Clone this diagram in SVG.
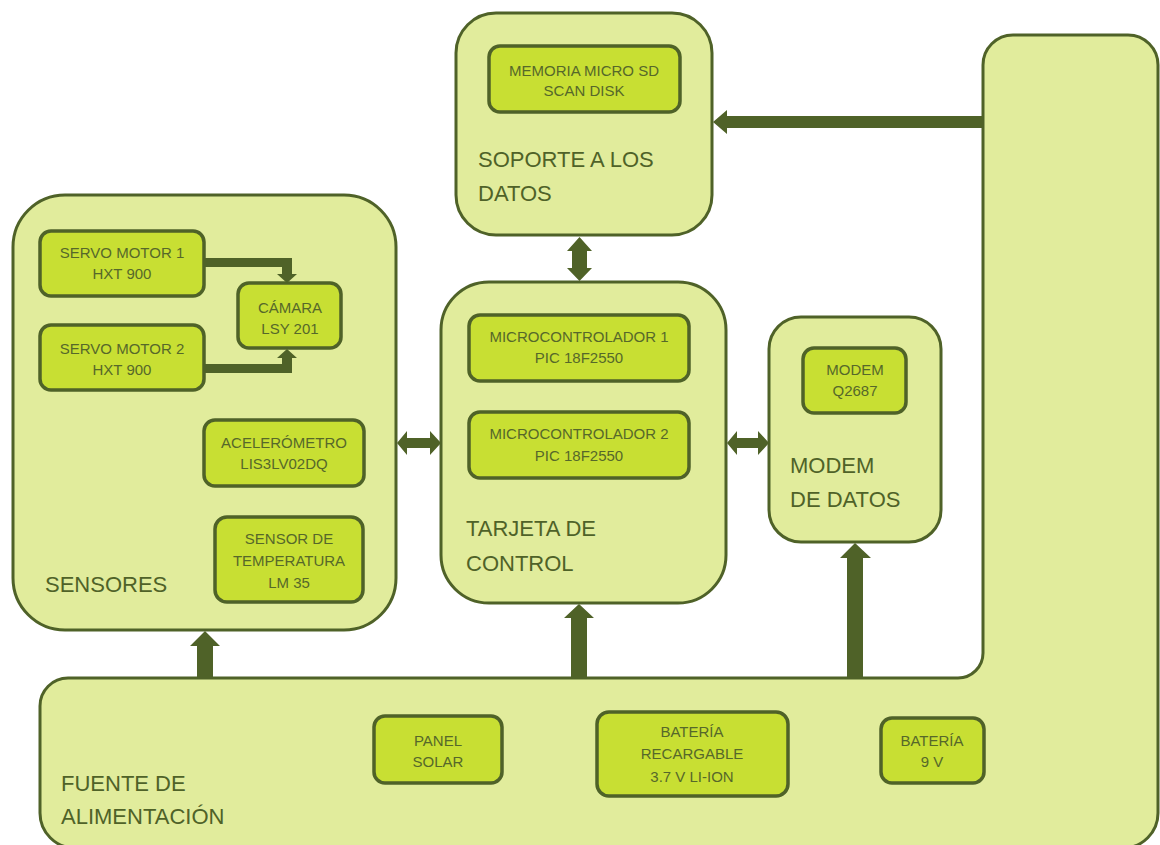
<svg xmlns="http://www.w3.org/2000/svg" width="1160" height="845" viewBox="0 0 1160 845">
<style>
.outer{fill:#e1ec9c;stroke:#4f6228;stroke-width:3}
.inner{fill:#c8df33;stroke:#4f6228;stroke-width:3.5}
.t{font-family:"Liberation Sans",Arial,sans-serif;font-size:15px;fill:#56682a;text-anchor:middle}
.big{font-family:"Liberation Sans",Arial,sans-serif;font-size:22px;fill:#4f6228}
.arr{fill:#4f6228}
</style>
<rect width="1160" height="845" fill="#ffffff"/>

<g id="fuente">
<path class="outer" d="M 68,678 H 958 A 25 25 0 0 0 983 653 V 65 A 30 30 0 0 1 1013 35 H 1128 A 30 30 0 0 1 1158 65 V 813 A 35 35 0 0 1 1123 848 H 75 A 35 35 0 0 1 40 813 V 706 A 28 28 0 0 1 68 678 Z"/>
<text class="big" x="61" y="791">FUENTE DE</text>
<text class="big" x="61" y="824">ALIMENTACIÓN</text>
</g>
<g id="panel">
<rect class="inner" x="374" y="716" width="128" height="67" rx="11"/>
<text class="t" x="438" y="746">PANEL</text>
<text class="t" x="438" y="767">SOLAR</text>
</g>
<g id="bateria-recargable">
<rect class="inner" x="597" y="712" width="191" height="84" rx="12"/>
<text class="t" x="692" y="737">BATERÍA</text>
<text class="t" x="692" y="759">RECARGABLE</text>
<text class="t" x="692" y="782">3.7 V LI-ION</text>
</g>
<g id="bateria-9v">
<rect class="inner" x="881" y="718" width="103" height="65" rx="11"/>
<text class="t" x="932" y="746">BATERÍA</text>
<text class="t" x="932" y="767">9 V</text>
</g>

<g id="soporte">
<rect class="outer" x="456" y="13" width="256" height="222" rx="40"/>
<text class="big" x="478" y="167">SOPORTE A LOS</text>
<text class="big" x="478" y="201">DATOS</text>
</g>
<g id="memoria">
<rect class="inner" x="489" y="46" width="191" height="66" rx="11"/>
<text class="t" x="584" y="76">MEMORIA MICRO SD</text>
<text class="t" x="584" y="96">SCAN DISK</text>
</g>

<g id="sensores">
<rect class="outer" x="13" y="195" width="383" height="435" rx="52"/>
<text class="big" x="45" y="592">SENSORES</text>
</g>
<g id="servo1">
<rect class="inner" x="40" y="231" width="164" height="65" rx="11"/>
<text class="t" x="122" y="258">SERVO MOTOR 1</text>
<text class="t" x="122" y="279">HXT 900</text>
</g>
<g id="servo2">
<rect class="inner" x="40" y="325" width="164" height="65" rx="11"/>
<text class="t" x="122" y="354">SERVO MOTOR 2</text>
<text class="t" x="122" y="375">HXT 900</text>
</g>
<g id="camara">
<rect class="inner" x="238" y="283" width="103" height="65" rx="11"/>
<text class="t" x="290" y="313">CÁMARA</text>
<text class="t" x="290" y="334">LSY 201</text>
</g>
<g id="acelerometro">
<rect class="inner" x="204" y="420" width="160" height="66" rx="11"/>
<text class="t" x="284" y="448">ACELERÓMETRO</text>
<text class="t" x="284" y="469">LIS3LV02DQ</text>
</g>
<g id="temperatura">
<rect class="inner" x="215" y="517" width="148" height="85" rx="12"/>
<text class="t" x="289" y="544">SENSOR DE</text>
<text class="t" x="289" y="566">TEMPERATURA</text>
<text class="t" x="289" y="588">LM 35</text>
</g>

<g id="tarjeta">
<rect class="outer" x="441" y="282" width="285" height="321" rx="48"/>
<text class="big" x="466" y="536">TARJETA DE</text>
<text class="big" x="466" y="571">CONTROL</text>
</g>
<g id="micro1">
<rect class="inner" x="469" y="315" width="220" height="66" rx="11"/>
<text class="t" x="579" y="342">MICROCONTROLADOR  1</text>
<text class="t" x="579" y="363">PIC 18F2550</text>
</g>
<g id="micro2">
<rect class="inner" x="469" y="412" width="220" height="66" rx="11"/>
<text class="t" x="579" y="439">MICROCONTROLADOR  2</text>
<text class="t" x="579" y="461">PIC 18F2550</text>
</g>

<g id="modem-datos">
<rect class="outer" x="769" y="317" width="172" height="225" rx="32"/>
<text class="big" x="790" y="473">MODEM</text>
<text class="big" x="790" y="507">DE DATOS</text>
</g>
<g id="modem">
<rect class="inner" x="803" y="348" width="103" height="65" rx="11"/>
<text class="t" x="855" y="375">MODEM</text>
<text class="t" x="855" y="396">Q2687</text>
</g>

<g id="connectors">
<!-- fuente to soporte -->
<path class="arr" d="M 983,116 H 727 V 110 L 713,122 L 727,134 V 128 H 983 Z"/>
<!-- soporte <-> tarjeta -->
<path class="arr" d="M 579.5,237 L 592,251 H 587 V 268 H 592 L 579.5,281 L 567,268 H 572 V 251 H 567 Z"/>
<!-- sensores <-> tarjeta -->
<path class="arr" d="M 397,443 L 407,431 V 438 H 430 V 431 L 441,443 L 430,455 V 448 H 407 V 455 Z"/>
<!-- tarjeta <-> modem -->
<path class="arr" d="M 727,443 L 737,431 V 438 H 758 V 431 L 769,443 L 758,455 V 448 H 737 V 455 Z"/>
<!-- servo1 to camara -->
<path class="arr" d="M 204,258 H 292 V 274 H 297 L 287,283 L 277,274 H 282 V 267 H 204 Z"/>
<!-- servo2 to camara -->
<path class="arr" d="M 204,373 H 292 V 358 H 297 L 287,349 L 277,358 H 282 V 364 H 204 Z"/>
<!-- fuente to sensores -->
<path class="arr" d="M 197,678 V 646 H 190 L 205,631 L 220,646 H 213 V 678 Z"/>
<!-- fuente to tarjeta -->
<path class="arr" d="M 571,678 V 618 H 564 L 579,604 L 594,618 H 587 V 678 Z"/>
<!-- fuente to modem -->
<path class="arr" d="M 847,678 V 558 H 840 L 855,543 L 871,558 H 863 V 678 Z"/>
</g>
</svg>
